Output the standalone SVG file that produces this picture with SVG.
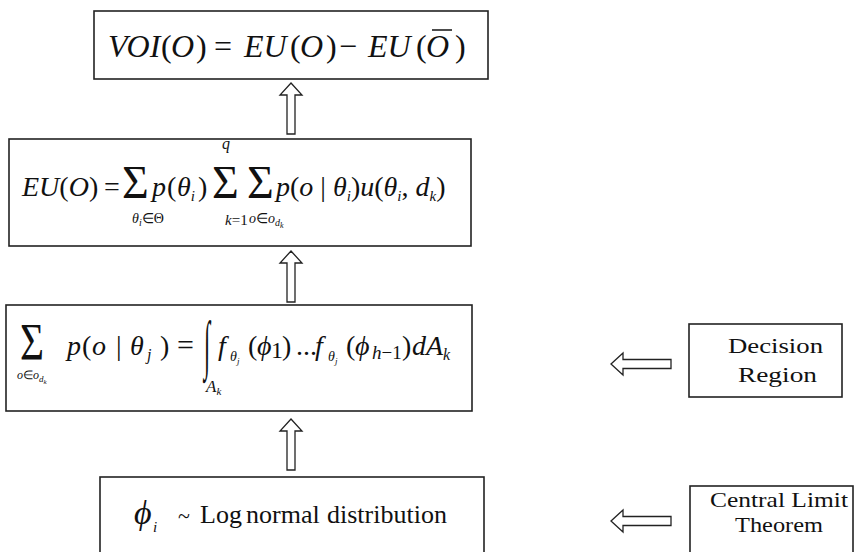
<svg xmlns="http://www.w3.org/2000/svg" width="857" height="552" viewBox="0 0 857 552" font-family="Liberation Serif">
<rect width="857" height="552" fill="#fff"/>
<g id="connectors" fill="#fff" stroke="#222" stroke-width="1.3">
<path d="M291,83 L302,95 L295,95 L295,134 L287,134 L287,95 L280,95 Z"/>
<path d="M291,251 L302,263 L295,263 L295,302 L287,302 L287,263 L280,263 Z"/>
<path d="M291,419 L302,431 L295,431 L295,470 L287,470 L287,431 L280,431 Z"/>
<path d="M611,364 L623,353 L623,359.5 L671,359.5 L671,368.5 L623,368.5 L623,375 Z"/>
<path d="M611,521 L623,510 L623,516.5 L671,516.5 L671,525.5 L623,525.5 L623,532 Z"/>
</g>
<g id="voi">
<rect fill="#fff" stroke="#222" stroke-width="1.6" x="94" y="11" width="394" height="68"/>
<text font-family="Liberation Serif" fill="#111" y="57" font-size="32"><tspan x="108" font-style="italic">VOI</tspan><tspan x="161">(</tspan><tspan x="171" font-style="italic">O</tspan><tspan x="196">)</tspan><tspan x="214">=</tspan><tspan x="244" font-style="italic">EU</tspan><tspan x="290">(</tspan><tspan x="300" font-style="italic">O</tspan><tspan x="326">)</tspan><tspan x="339">−</tspan><tspan x="368" font-style="italic">EU</tspan><tspan x="416">(</tspan><tspan x="426" font-style="italic">O</tspan><tspan x="455">)</tspan></text>
<line x1="432" y1="30" x2="452" y2="30" stroke="#111" stroke-width="1.5"/>
</g>
<g id="eu">
<rect fill="#fff" stroke="#222" stroke-width="1.6" x="9" y="139" width="462" height="107"/>
<text font-family="Liberation Serif" fill="#111" y="196" font-size="28"><tspan x="22" font-style="italic">EU</tspan><tspan>(</tspan><tspan font-style="italic">O</tspan><tspan>)</tspan><tspan x="104">=</tspan></text>
<text font-family="Liberation Serif" fill="#111" x="122" y="198" font-size="46">Σ</text>
<text font-family="Liberation Serif" fill="#111" y="196" font-size="28"><tspan x="152" font-style="italic">p</tspan><tspan x="167">(</tspan><tspan x="177" font-style="italic">θ</tspan><tspan font-style="italic" font-size="15" dy="5">i</tspan><tspan x="198" dy="-5">)</tspan></text>
<text font-family="Liberation Serif" fill="#111" x="212" y="198" font-size="46">Σ</text>
<text font-family="Liberation Serif" fill="#111" x="222" y="149" font-size="16" font-style="italic">q</text>
<text font-family="Liberation Serif" fill="#111" x="247" y="198" font-size="46">Σ</text>
<text font-family="Liberation Serif" fill="#111" y="196" font-size="28"><tspan x="276" font-style="italic">p</tspan><tspan>(</tspan><tspan font-style="italic">o</tspan><tspan> | </tspan><tspan font-style="italic">θ</tspan><tspan font-style="italic" font-size="15" dy="5">i</tspan><tspan dy="-5">)</tspan><tspan font-style="italic">u</tspan><tspan>(</tspan><tspan font-style="italic">θ</tspan><tspan font-style="italic" font-size="15" dy="5">i</tspan><tspan dy="-5">, </tspan><tspan font-style="italic">d</tspan><tspan font-style="italic" font-size="15" dy="5">k</tspan><tspan dy="-5">)</tspan></text>
<text font-family="Liberation Serif" fill="#111" x="132" y="223" font-size="14"><tspan font-style="italic">θ</tspan><tspan font-style="italic" font-size="10" dy="3">i</tspan><tspan dy="-3">∈Θ</tspan></text>
<text font-family="Liberation Serif" fill="#111" x="225" y="225" font-size="15"><tspan font-style="italic">k</tspan>=1</text>
<text font-family="Liberation Serif" fill="#111" x="249" y="223" font-size="14"><tspan font-style="italic">o</tspan>∈<tspan font-style="italic">o</tspan><tspan font-style="italic" font-size="10" dy="3">d</tspan><tspan font-style="italic" font-size="8" dy="2">k</tspan></text>
</g>
<g id="likelihood">
<rect fill="#fff" stroke="#222" stroke-width="1.6" x="6" y="305" width="466" height="106"/>
<text font-family="Liberation Serif" fill="#111" x="20" y="360" font-size="52" textLength="24" lengthAdjust="spacingAndGlyphs">Σ</text>
<text font-family="Liberation Serif" fill="#111" x="17" y="379" font-size="12"><tspan font-style="italic">o</tspan>∈<tspan font-style="italic">o</tspan><tspan font-style="italic" font-size="9" dy="3">d</tspan><tspan font-style="italic" font-size="7" dy="2">k</tspan></text>
<text font-family="Liberation Serif" fill="#111" y="355" font-size="28"><tspan x="67" font-style="italic">p</tspan><tspan x="82">(</tspan><tspan x="92" font-style="italic">o</tspan><tspan x="116">|</tspan><tspan x="130" font-style="italic">θ</tspan><tspan x="147" font-style="italic" font-size="16" dy="5">j</tspan><tspan x="160" dy="-5">)</tspan><tspan x="177" font-size="30">=</tspan></text>
<text font-family="Liberation Serif" fill="#111" transform="translate(204,366) scale(0.8,2.3)" font-size="28">∫</text>
<text font-family="Liberation Serif" fill="#111" x="206" y="392" font-size="17"><tspan font-style="italic">A</tspan><tspan font-style="italic" font-size="11" dy="3">k</tspan></text>
<text font-family="Liberation Serif" fill="#111" y="355" font-size="28"><tspan x="218" font-style="italic">f</tspan><tspan x="230" font-style="italic" font-size="14" dy="6">θ</tspan><tspan font-style="italic" font-size="9" dy="3">j</tspan><tspan x="248" dy="-9">(</tspan><tspan x="257" font-style="italic">ϕ</tspan><tspan x="271" font-size="24" dy="3">1</tspan><tspan x="282" dy="-3">)</tspan><tspan x="296">...</tspan><tspan x="315" font-style="italic">f</tspan><tspan x="328" font-style="italic" font-size="14" dy="6">θ</tspan><tspan font-style="italic" font-size="9" dy="3">j</tspan><tspan x="346" dy="-9">(</tspan><tspan x="355" font-style="italic">ϕ</tspan><tspan x="372" font-style="italic" font-size="19" dy="4">h</tspan><tspan font-size="19">−1</tspan><tspan x="402" dy="-4">)</tspan><tspan x="412" font-style="italic">dA</tspan><tspan font-style="italic" font-size="16" dy="5">k</tspan></text>
</g>
<g id="lognormal">
<rect fill="#fff" stroke="#222" stroke-width="1.6" x="100" y="477" width="384" height="90"/>
<text font-family="Liberation Serif" fill="#111" x="134" y="524" font-size="34" font-style="italic">ϕ</text>
<text font-family="Liberation Serif" fill="#111" x="153" y="532" font-size="15" font-style="italic">i</text>
<text font-family="Liberation Serif" fill="#111" y="523" font-size="26"><tspan x="178" font-size="22">~</tspan><tspan x="200">Log</tspan><tspan x="246">normal</tspan><tspan x="327">distribution</tspan></text>
</g>
<g id="decision">
<rect fill="#fff" stroke="#222" stroke-width="1.6" x="689" y="324" width="153" height="73"/>
<text font-family="Liberation Serif" fill="#111" x="728" y="353" font-size="21" textLength="95" lengthAdjust="spacingAndGlyphs">Decision</text>
<text font-family="Liberation Serif" fill="#111" x="738" y="382" font-size="21" textLength="79" lengthAdjust="spacingAndGlyphs">Region</text>
</g>
<g id="clt">
<rect fill="#fff" stroke="#222" stroke-width="1.6" x="690" y="486" width="163" height="80"/>
<text font-family="Liberation Serif" fill="#111" x="710" y="507" font-size="21" textLength="138" lengthAdjust="spacingAndGlyphs">Central Limit</text>
<text font-family="Liberation Serif" fill="#111" x="735" y="532" font-size="21" textLength="88" lengthAdjust="spacingAndGlyphs">Theorem</text>
</g>
</svg>
